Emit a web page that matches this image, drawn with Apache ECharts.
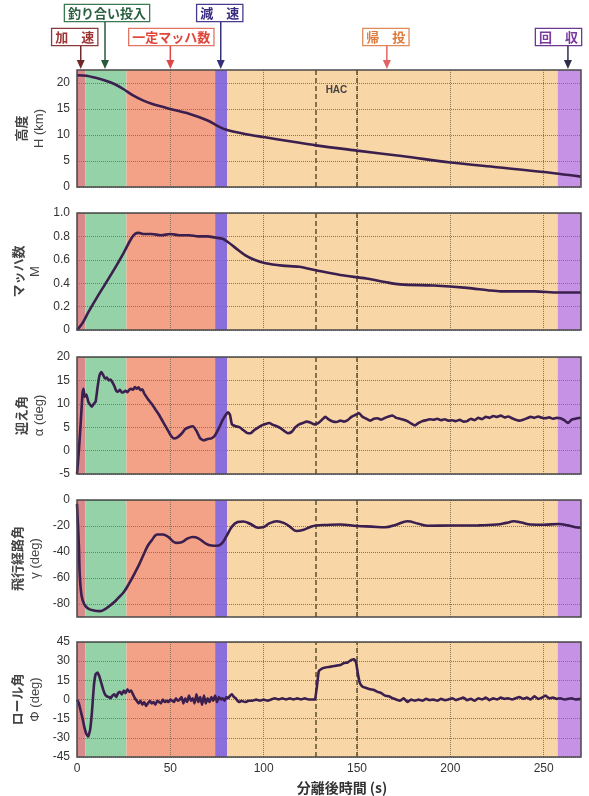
<!DOCTYPE html>
<html><head><meta charset="utf-8">
<script src="https://cdn.jsdelivr.net/npm/echarts@6/dist/echarts.min.js"></script>
<style>html,body{margin:0;padding:0;background:#fff}#c{width:589px;height:796px}</style>
</head><body><div id="c"></div>
<script>
// ---- phases ----
const phaseNames = ['加速', '釣り合い投入', '一定マッハ数', '減速', '帰投', '回収'];
const phaseBounds = [0, 4.5, 26.5, 74, 80.5, 257.5, 270];
const phaseColors = ['#d98a8a', '#95d2a7', '#f3a287', '#8a6edb', '#f8d6a6', '#c692e6'];
const hacTimes = [128, 150];
const hacLabel = 'HAC';
const xTicks = [0, 50, 100, 150, 200, 250];

// ---- altitude H (km) ----
const altT = [0, 5, 10, 15, 20, 25, 30, 35, 40, 50, 60, 70, 76, 80, 90, 100, 114, 128, 150, 175, 200, 225, 250, 270];
const altH = [21.5, 21.4, 21.0, 20.5, 19.8, 18.8, 17.6, 16.7, 16.0, 15.0, 14.1, 12.8, 11.6, 11.0, 10.2, 9.6, 8.8, 8.0, 7.0, 5.9, 4.7, 3.8, 2.9, 2.0];
const altTicks = [0, 5, 10, 15, 20];

// ---- Mach ----
const machT = [0, 3, 6, 10, 15, 20, 25, 29, 31, 33, 36, 40, 45, 50, 55, 60, 65, 70, 74, 78, 81, 85, 90, 95, 101, 110, 119, 128, 141, 155, 165, 173, 191, 209, 220, 227, 245, 258, 270];
const machM = [0, 0.06, 0.15, 0.26, 0.39, 0.52, 0.66, 0.78, 0.82, 0.83, 0.82, 0.82, 0.81, 0.82, 0.81, 0.81, 0.80, 0.80, 0.79, 0.78, 0.75, 0.70, 0.64, 0.60, 0.57, 0.55, 0.54, 0.51, 0.47, 0.44, 0.41, 0.39, 0.38, 0.36, 0.34, 0.33, 0.33, 0.32, 0.32];
const machTicks = [0, 0.2, 0.4, 0.6, 0.8, 1.0];

// ---- angle of attack alpha (deg) ----
const aoaT = [0, 1, 2, 3, 3.5, 4, 5, 6, 7, 8, 9, 10, 11, 12, 13, 14, 15, 16, 17, 18, 19, 20, 21, 22, 23, 24, 25, 26, 27, 28, 29, 30, 31, 32, 33, 34, 35, 36, 37, 38, 40, 42, 44, 46, 48, 50, 52, 54, 56, 58, 60, 62, 64, 66, 68, 70, 72, 74, 76, 78, 80, 81, 82, 83, 85, 87, 89, 91, 93, 95, 97, 99, 101, 103, 105, 107, 109, 111, 113, 115, 117, 119, 121, 123, 125, 127, 129, 131, 133, 135, 137, 139, 141, 143, 145, 147, 149, 151, 153, 155, 157, 159, 161, 163, 165, 167, 169, 171, 173, 175, 177, 179, 181, 183, 185, 187, 189, 191, 193, 195, 197, 199, 201, 203, 205, 207, 209, 211, 213, 215, 217, 219, 221, 223, 225, 227, 229, 231, 233, 235, 237, 239, 241, 243, 245, 247, 249, 251, 253, 255, 257, 259, 261, 263, 265, 267, 270];
const aoaA = [-5, 0, 6, 12.5, 13.2, 11.5, 12, 10.5, 9.8, 9.4, 10.0, 10.5, 13.5, 16, 16.8, 16.2, 15.4, 15.6, 15.0, 15.2, 14.6, 13.8, 12.8, 12.6, 13.0, 12.4, 12.5, 12.8, 12.5, 13.0, 13.2, 13.0, 13.6, 13.2, 13.5, 12.9, 13.1, 12.2, 11.6, 11.0, 10.0, 8.8, 7.6, 6.2, 4.8, 3.4, 2.6, 2.9, 3.6, 4.6, 5.0, 5.2, 4.2, 2.6, 2.2, 2.5, 2.6, 3.3, 4.8, 6.5, 7.8, 8.2, 7.6, 5.6, 5.2, 5.0, 4.4, 3.8, 3.7, 4.4, 4.9, 5.4, 5.7, 5.9, 5.5, 5.2, 4.8, 4.2, 3.7, 4.0, 5.0, 5.6, 5.9, 6.2, 6.0, 5.6, 5.8, 6.5, 7.2, 6.6, 6.2, 6.1, 6.4, 6.2, 6.5, 7.2, 7.6, 8.0, 7.2, 6.8, 6.4, 6.8, 6.9, 6.6, 7.0, 7.3, 7.5, 7.0, 6.8, 6.6, 6.3, 5.8, 5.4, 5.9, 6.3, 6.5, 6.7, 6.6, 6.8, 6.5, 6.7, 6.4, 6.5, 6.3, 6.6, 6.2, 6.3, 6.8, 6.5, 7.0, 6.7, 7.2, 7.0, 7.4, 7.2, 7.5, 7.1, 7.3, 6.9, 6.6, 6.4, 6.6, 6.9, 7.2, 7.0, 7.3, 7.0, 6.9, 7.1, 6.8, 7.0, 6.9, 6.5, 5.9, 6.6, 6.8, 7.0];
const aoaTicks = [-5, 0, 5, 10, 15, 20];

// ---- flight path angle gamma (deg) ----
const fpaT = [0, 1, 1.5, 2.5, 4, 6, 9, 12, 15, 17, 20, 22, 25, 28, 31, 33, 36, 38, 40, 43, 46, 49, 53, 56, 59, 62, 65, 69, 72, 75, 77.5, 80, 83, 86, 89, 93, 97, 100, 103, 107, 111, 114, 117.5, 121, 125, 128, 134, 141, 150, 158, 165, 171, 177, 183, 188, 200, 215, 225, 230, 234, 238, 243, 250, 258, 263, 267, 270];
const fpaG = [-3, -35, -58, -74, -80.5, -83.5, -85, -85.5, -84, -82, -78.5, -75.5, -71, -64, -56, -50.5, -41, -35, -31, -26.5, -26.5, -28.5, -33, -32.5, -29.8, -28.5, -29.5, -33.5, -35, -35.2, -33.5, -28, -20.5, -17, -16.5, -18.5, -21.3, -20.8, -18, -16.4, -17.8, -20.5, -23.8, -23, -20.8, -19.6, -19.2, -18.9, -20, -20.5, -21, -19, -16.4, -18.3, -19.8, -19.6, -19.5, -18.9, -17.6, -16.4, -17.3, -18.8, -19, -18.5, -19.5, -21, -21.3];
const fpaTicks = [-80, -60, -40, -20, 0];

// ---- roll angle phi (deg) ----
const rollT = [0, 1, 2, 3, 4, 5, 6, 7, 8, 9, 10, 11, 12, 13, 14, 15, 16, 17, 18, 19, 20, 21, 22, 23, 24, 25, 26, 27, 28, 29, 30, 31, 32, 33, 34, 35, 36, 37, 38, 39, 40, 41, 42, 43, 44, 45, 46, 47, 48, 49, 50, 51, 52, 53, 54, 55, 56, 57, 58, 59, 60, 61, 62, 63, 64, 65, 66, 67, 68, 69, 70, 71, 72, 73, 74, 75, 76, 77, 78, 79, 80, 81, 82, 83, 84, 85, 86, 87, 88, 90, 92, 94, 96, 98, 100, 102, 104, 106, 108, 110, 112, 114, 116, 118, 120, 122, 124, 126, 127.5, 128.5, 129.5, 131, 133, 135, 137, 139, 141, 143, 145, 147, 148.5, 149.5, 150.5, 151.5, 153, 155, 157, 159, 161, 163, 165, 167, 169, 171, 173, 175, 177, 179, 181, 183, 185, 187, 189, 191, 193, 195, 197, 199, 201, 203, 205, 207, 209, 211, 213, 215, 217, 219, 221, 223, 225, 227, 229, 231, 233, 235, 237, 239, 241, 243, 245, 247, 249, 251, 253, 255, 257, 259, 261, 263, 265, 267, 270];
const rollP = [0, -3, -9, -15, -22, -27, -29, -24, -10, 10, 20, 21, 18, 13, 8, 4, 2.5, 2, 1, 3, 4, 2, 5, 6, 4, 7, 5, 8, 6, 7, 4, 1, -1, -3, -1, -4, -2, -5, -3, -1, -3, -2, -4, -1, -2, -3, 0, -2, -1, -2, 0, -1, -2, 1, -1, 0, 2, -3, 1, -2, 3, -1, 1, -3, 4, -2, 2, -4, 3, -3, 1, -2, 2, -1, 3, -2, 2, 0, 1, -1, 2, 1, 3, 4, 2, 1, -1, -2, -1, -2, -1, -1, 0, -1, 0, -1, 0, 1, 0, 1, 0, 1, 0, 1, 0, 1, 0, 0, 0, 10, 22, 24, 25, 25.5, 26, 26.5, 27, 28.5, 29, 31, 31.5, 29, 20, 13, 10, 9, 8, 7.5, 6, 5, 3, 2.5, 1, 0, -1, 1, -2, 0, -1, 0, -1, 0.5, -0.5, 0, -1, 0.5, -0.5, 0, 1, -0.5, 0.5, 1.5, -0.5, 0.5, -1, 1, 0, 1.5, -0.5, 1, 0, 1.5, 0.5, 1, 0, 1, 2, 0.5, 1.5, 0, 2.5, 0.5, 1.5, 3, 1, 1.5, 0.5, 1, 0, 0.5, 1, 0, 0.5];
const rollTicks = [-45, -30, -15, 0, 15, 30, 45];

// ---- annotations ----
const annotLabels = ['加　速', '釣り合い投入', '一定マッハ数', '減　速', '帰　投', '回　収'];
const annotTimes = [2, 15, 50, 77, 166, 263];

const zip = (t, v) => t.map((x, i) => [x, v[i]]);

const panels = [
  { top: 70, min: 0, max: 22.5, ticks: altTicks, name: ['高度', 'H (km)'], data: zip(altT, altH), smooth: 0.3, fmt: v => String(v) },
  { top: 213, min: 0, max: 1.0, ticks: machTicks, name: ['マッハ数', 'M'], data: zip(machT, machM), smooth: 0.3, fmt: v => (v === 0 ? '0' : v.toFixed(1)) },
  { top: 357, min: -5, max: 20, ticks: aoaTicks, name: ['迎え角', 'α (deg)'], data: zip(aoaT, aoaA), smooth: 0.15, fmt: v => String(v) },
  { top: 500, min: -90, max: 0, ticks: fpaTicks, name: ['飛行経路角', 'γ (deg)'], data: zip(fpaT, fpaG), smooth: 0.4, fmt: v => String(v) },
  { top: 642, min: -45, max: 45, ticks: rollTicks, name: ['ロール角', 'Φ (deg)'], data: zip(rollT, rollP), smooth: 0.1, fmt: v => String(v) }
];

const LINE = '#3b1f4e';
const GRIDC = '#85775c';
const FONT = '"Liberation Sans", Arial, sans-serif';
const JP = '"Noto Sans CJK JP", sans-serif';

const grids = [], xAxes = [], yAxes = [], series = [];
panels.forEach((p, i) => {
  grids.push({ left: 77, right: 8, top: p.top, height: 117, show: true, borderColor: '#4a4a4a', borderWidth: 1.5, backgroundColor: 'transparent', z: 6 });
  const last = i === panels.length - 1;
  xAxes.push({
    type: 'value', gridIndex: i, min: 0, max: 270, z: 3,
    axisLine: { show: false }, axisTick: { show: false, customValues: xTicks },
    axisLabel: { show: last, customValues: xTicks, color: '#333', fontSize: 12, fontFamily: FONT, margin: 6 },
    splitLine: { show: true, lineStyle: { type: 'dotted', color: GRIDC, width: 1 } },
    name: last ? '分離後時間 (s)' : '', nameLocation: 'middle', nameGap: 24,
    nameTextStyle: { fontFamily: JP, fontSize: 14, fontWeight: 'bold', color: '#333', padding: [0, 0, 0, 26] }
  });
  yAxes.push({
    type: 'value', gridIndex: i, min: p.min, max: p.max, z: 3,
    axisLine: { show: false }, axisTick: { show: false, customValues: p.ticks },
    axisLabel: { customValues: p.ticks, formatter: p.fmt, color: '#333', fontSize: 12, fontFamily: FONT, margin: 7 },
    splitLine: { show: true, lineStyle: { type: 'dotted', color: GRIDC, width: 1 } },
    name: '{a|' + p.name[0] + '}\n{b|' + p.name[1] + '}', nameLocation: 'middle', nameRotate: 90, nameGap: 28,
    nameTextStyle: { rich: {
      a: { fontFamily: JP, fontSize: 13, fontWeight: 'bold', color: '#444', lineHeight: 18 },
      b: { fontFamily: FONT, fontSize: 13, color: '#444', lineHeight: 18 }
    } }
  });
  // phase bands
  series.push({
    type: 'line', xAxisIndex: i, yAxisIndex: i, data: [], z: 1, silent: true,
    markArea: { silent: true, data: phaseNames.map((n, k) => [
      { xAxis: phaseBounds[k], itemStyle: { color: phaseColors[k] } }, { xAxis: phaseBounds[k + 1] }
    ]) }
  });
  // HAC window lines
  series.push({
    type: 'line', xAxisIndex: i, yAxisIndex: i, data: [], z: 4, silent: true,
    markLine: { silent: true, symbol: 'none', label: { show: false },
      lineStyle: { type: [5, 3], color: '#5b5232', width: 1.5 },
      data: hacTimes.map(t => ({ xAxis: t })) }
  });
  series.push({
    type: 'line', xAxisIndex: i, yAxisIndex: i, data: p.data, z: 5,
    showSymbol: false, smooth: p.smooth, lineStyle: { color: LINE, width: 2.6 }, itemStyle: { color: LINE }
  });
});

const chart = echarts.init(document.getElementById('c'), null, { renderer: 'canvas' });
chart.setOption({ animation: false, backgroundColor: '#fff', grid: grids, xAxis: xAxes, yAxis: yAxes, series });

// annotation boxes + arrows above the top panel
const annotStyle = [
  { row: 1, dx: -6, text: '#a03434', border: '#8a3a3a', arrow: '#6e2a2a' },
  { row: 0, dx: 2, text: '#2a6040', border: '#3a7a50', arrow: '#2a5a3a' },
  { row: 1, dx: 1, text: '#e0453a', border: '#e07565', arrow: '#dc4848' },
  { row: 0, dx: -1, text: '#3a2a80', border: '#4a3a90', arrow: '#35307a' },
  { row: 1, dx: -1, text: '#e07a3a', border: '#e08a5a', arrow: '#e06464' },
  { row: 1, dx: 0, text: '#7a3aa0', border: '#6a3a90', arrow: '#2e2e4a' }
];
const gridRight = chart.convertToPixel({ xAxisIndex: 0, yAxisIndex: 0 }, [270, 22.5])[0];
const graphics = [];
annotLabels.forEach((lab, k) => {
  const s = annotStyle[k];
  const [ax, ay] = chart.convertToPixel({ xAxisIndex: 0, yAxisIndex: 0 }, [annotTimes[k], 22.5]);
  const fs = 13;
  const w = lab.length * fs + 6;
  let cx = ax + s.dx;
  if (cx + w / 2 > gridRight) cx = gridRight - w / 2;
  const topY = s.row === 0 ? 5 : 29;
  graphics.push({
    type: 'text', x: cx, y: topY, z: 10,
    style: { text: lab, fill: s.text, font: 'bold ' + fs + 'px ' + JP, align: 'center', verticalAlign: 'top',
      backgroundColor: '#ffffff', borderColor: s.border, borderWidth: 1.3, padding: [0, 3, 0, 3], lineHeight: 16 }
  });
  const boxBottom = topY + 17;
  graphics.push({ type: 'line', z: 10, shape: { x1: ax, y1: boxBottom, x2: ax, y2: ay - 6 }, style: { stroke: s.arrow, lineWidth: 1.5 } });
  graphics.push({ type: 'polygon', z: 10, shape: { points: [[ax - 4, ay - 10], [ax + 4, ay - 10], [ax, ay - 1]] }, style: { fill: s.arrow } });
});
const hp = chart.convertToPixel({ xAxisIndex: 0, yAxisIndex: 0 }, [(hacTimes[0] + hacTimes[1]) / 2, 18.7]);
graphics.push({ type: 'text', x: hp[0], y: hp[1], z: 10,
  style: { text: hacLabel, fill: '#444', font: 'bold 10px ' + FONT, align: 'center', verticalAlign: 'middle' } });
chart.setOption({ graphic: graphics });
</script>
</body></html>
